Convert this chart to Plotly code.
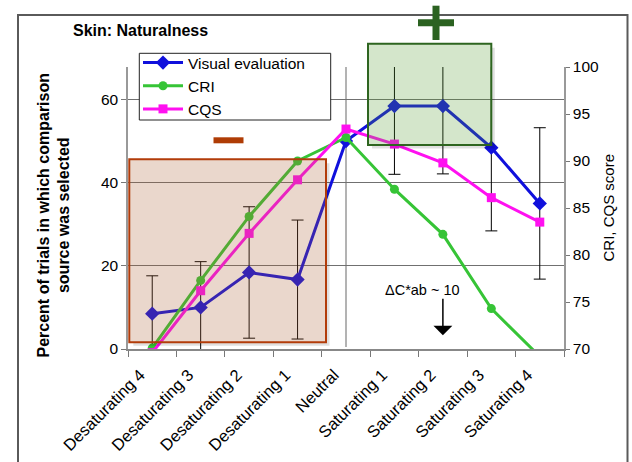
import plotly.graph_objects as go

categories = ["Desaturating 4", "Desaturating 3", "Desaturating 2", "Desaturating 1",
              "Neutral", "Saturating 1", "Saturating 2", "Saturating 3", "Saturating 4"]
visual = [8.5, 10.0, 18.4, 16.7, 50.0, 58.4, 58.4, 48.4, 35.0]
visual_err = [9.1, 11.0, 15.8, 14.3, None, 16.4, 16.3, 20.0, 18.2]
cri = [70.1, 77.3, 84.1, 90.0, 92.5, 87.0, 82.2, 74.3, 69.2]
cqs = [69.6, 76.2, 82.3, 88.0, 93.4, 91.8, 89.8, 86.1, 83.5]
left_ticks = [0, 20, 40, 60]
right_ticks = [70, 75, 80, 85, 90, 95, 100]

FONT = "Liberation Sans, Arial, sans-serif"
W, H = 632, 462
L, R, T, B = 128, 68, 67, 113
PW, PH = W - L - R, H - T - B


def px(x):
    return (x - L) / PW


def py(y):
    return (H - B - y) / PH


fig = go.Figure()
fig.add_trace(go.Scatter(
    x=categories, y=visual, name="Visual evaluation", mode="lines+markers",
    line=dict(color="#1010DC", width=3),
    marker=dict(symbol="diamond", size=11, color="#1010DC"),
    error_y=dict(type="data", array=visual_err, color="black", thickness=1, width=6),
    yaxis="y"))
fig.add_trace(go.Scatter(
    x=categories, y=cri, name="CRI", mode="lines+markers",
    line=dict(color="#36C436", width=3),
    marker=dict(symbol="circle", size=9, color="#36C436"),
    yaxis="y2"))
fig.add_trace(go.Scatter(
    x=categories, y=cqs, name="CQS", mode="lines+markers",
    line=dict(color="#FF10F0", width=3),
    marker=dict(symbol="square", size=9, color="#FF10F0"),
    yaxis="y2"))

shapes = []
# outer border
shapes.append(dict(type="rect", xref="paper", yref="paper",
                   x0=px(18), x1=px(627.5), y0=py(480), y1=py(15),
                   line=dict(color="#5a5a5a", width=2), fillcolor="rgba(0,0,0,0)", layer="below"))
# vertical line at Neutral
shapes.append(dict(type="line", xref="x", yref="y", x0=4, x1=4, y0=0.5, y1=67.8,
                   line=dict(color="#9a9a9a", width=1.5), layer="below"))
# shadows
for (x0, y0, x1, y1) in [(129.3, 159.3, 326, 342.3), (368, 43.7, 491.3, 145)]:
    shapes.append(dict(type="path", xref="paper", yref="paper",
                       path=f"M {px(x1+2)},{py(y0+4)} L {px(x1+2)},{py(y1+2)} L {px(x0+4)},{py(y1+2)}",
                       line=dict(color="rgba(0,0,0,0.12)", width=3), layer="above"))
# brown box
shapes.append(dict(type="rect", xref="paper", yref="paper",
                   x0=px(129.3), x1=px(326), y0=py(342.3), y1=py(159.3),
                   line=dict(color="#B23C0A", width=2), fillcolor="rgba(171,95,51,0.25)", layer="above"))
# minus sign
shapes.append(dict(type="rect", xref="paper", yref="paper",
                   x0=px(213.5), x1=px(243.5), y0=py(143.3), y1=py(137.3),
                   line=dict(width=0), fillcolor="#AF3C05", layer="above"))
# green box
shapes.append(dict(type="rect", xref="paper", yref="paper",
                   x0=px(368), x1=px(491.3), y0=py(145), y1=py(43.7),
                   line=dict(color="#2E6520", width=2), fillcolor="rgba(83,155,47,0.25)", layer="above"))
# plus sign
shapes.append(dict(type="rect", xref="paper", yref="paper",
                   x0=px(418), x1=px(454), y0=py(26.2), y1=py(19.2),
                   line=dict(width=0), fillcolor="#2B6221", layer="above"))
shapes.append(dict(type="rect", xref="paper", yref="paper",
                   x0=px(432.5), x1=px(439.5), y0=py(40), y1=py(5.7),
                   line=dict(width=0), fillcolor="#2B6221", layer="above"))
# legend frame
shapes.append(dict(type="rect", xref="paper", yref="paper",
                   x0=px(139.3), x1=px(330.7), y0=py(120), y1=py(53.3),
                   line=dict(color="#222", width=1), fillcolor="white", layer="above"))

annotations = [
    dict(text="<b>Skin: Naturalness</b>", xref="paper", yref="paper", x=px(71), y=py(30),
         xanchor="left", yanchor="middle", showarrow=False, font=dict(size=16, color="black")),
    dict(text="<b>Percent of trials in which comparison<br>source was selected</b>", xref="paper", yref="paper",
         x=px(53.5), y=py(215), textangle=-90, xanchor="center", yanchor="middle", showarrow=False,
         font=dict(size=16, color="black")),
    dict(text="CRI, CQS score", xref="paper", yref="paper", x=px(608), y=py(207.5), textangle=-90,
         xanchor="center", yanchor="middle", showarrow=False, font=dict(size=15, color="black")),
    dict(text="ΔC*ab ~ 10", xref="x", yref="y", x="Saturating 2", y=14.3, xshift=-20.6,
         xanchor="center", yanchor="middle", showarrow=False, font=dict(size=14.5, color="black")),
    dict(text="", xref="x", yref="y", x="Saturating 2", y=3.3, ax=0, ay=-38, showarrow=True,
         arrowhead=1, arrowsize=2.1, arrowwidth=1.5, arrowcolor="black"),
]

fig.update_layout(
    width=W, height=H, margin=dict(l=L, r=R, t=T, b=B, autoexpand=False),
    paper_bgcolor="white", plot_bgcolor="white",
    font=dict(family=FONT, size=15, color="black"),
    shapes=shapes, annotations=annotations,
    showlegend=True,
    legend=dict(x=px(138), y=py(46), xanchor="left", yanchor="top",
                borderwidth=0, bgcolor="rgba(0,0,0,0)",
                font=dict(size=15.5), tracegroupgap=0, itemwidth=40),
    xaxis=dict(type="category", range=[-0.5, 8.5], tickson="boundaries", ticks="outside", ticklen=6,
               tickcolor="#777", showline=True, linecolor="#888", linewidth=1.5, showgrid=False,
               tickangle=-45, tickfont=dict(size=16.5), ticklabelstandoff=8, ticklabelshift=-12,
               automargin=False),
    yaxis=dict(range=[0, 67.8], tickvals=left_ticks, ticks="outside", ticklen=5, tickcolor="#777",
               showline=True, linecolor="#999", linewidth=1.5, showgrid=True, gridcolor="#707070",
               gridwidth=1, zeroline=False, tickfont=dict(size=15.5), automargin=False),
    yaxis2=dict(range=[70, 100], tickvals=right_ticks, overlaying="y", side="right", ticks="outside",
                ticklen=4, tickcolor="#777", showline=True, linecolor="#999", linewidth=1.5,
                showgrid=False, zeroline=False, tickfont=dict(size=15.5), automargin=False),
    yaxis3=dict(range=[70, 100], tickvals=right_ticks, overlaying="y", side="right", ticks="inside",
                ticklen=4, tickcolor="#777", showline=False, showticklabels=False,
                showgrid=False, zeroline=False, automargin=False),
)

fig.write_html("out.html", config={"displayModeBar": False},
               post_script="document.body.style.margin='0';")
